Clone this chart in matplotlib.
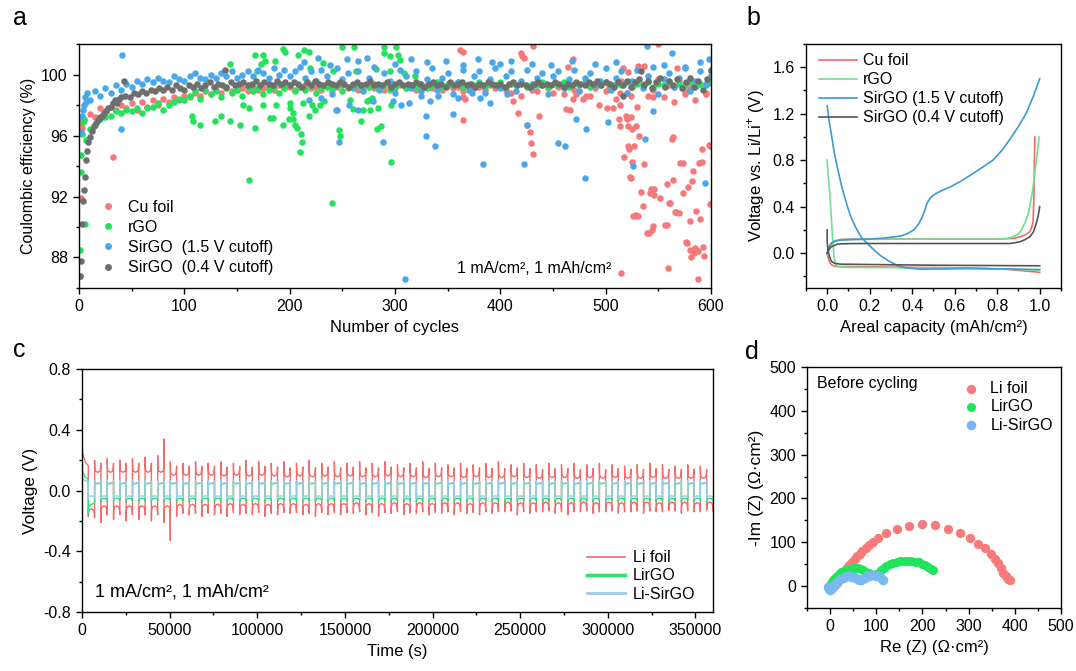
import matplotlib
matplotlib.use("Agg")
import matplotlib.pyplot as plt
from matplotlib.ticker import MultipleLocator
from matplotlib.lines import Line2D

plt.rcParams['font.family'] = ['Liberation Sans', 'DejaVu Sans']
plt.rcParams['mathtext.fontset'] = 'custom'
plt.rcParams['mathtext.rm'] = 'Liberation Sans'
plt.rcParams['axes.linewidth'] = 1.0
plt.rcParams['axes.unicode_minus'] = False

# ---------------- panel a: coulombic efficiency ----------------
cu_band_x = list(range(5, 601, 5))
cu_band_y = [97.0, 97.4, 97.2, 97.8, 97.6, 97.9, 97.7, 98.0, 97.8, 98.1,
             97.7, 98.2, 97.9, 98.3, 98.0, 98.4, 98.2, 98.5, 98.3, 98.6,
             98.5, 98.8, 98.6, 98.9, 98.7, 99.0, 98.8, 99.1, 98.9, 99.0,
             99.1, 98.9, 99.2, 99.0, 99.1, 99.2, 99.0, 99.3, 99.1, 99.2,
             99.0, 99.2, 99.3, 99.1, 99.2, 99.0, 99.3, 99.1, 99.2, 99.3,
             99.1, 99.2, 99.0, 99.3, 99.2, 99.1, 99.3, 99.0, 99.2, 99.1,
             99.3, 99.1, 99.2, 99.0, 99.2, 99.3, 99.1, 99.2, 99.0, 99.3,
             99.1, 99.2, 98.9, 99.3, 99.1, 99.2, 99.0, 99.3, 99.1, 99.2,
             99.0, 98.8, 99.3, 98.6, 99.2, 99.0, 98.9, 99.3, 99.1, 98.8,
             99.2, 98.7, 99.3, 99.0, 98.9, 99.4, 98.6, 99.1, 99.5, 98.9,
             99.3, 98.4, 99.6, 98.8, 99.2, 97.9, 99.4, 98.6, 99.0, 99.7,
             98.5, 99.3, 98.2, 99.6, 98.9, 99.1, 98.3, 99.4, 98.7, 100.2]
cu_out = [(1, 97.0), (2, 96.8), (3, 96.5), (2, 91.9), (4, 96.9), (32, 94.6),
          (362, 101.6), (365, 101.5), (366, 98.4), (365, 98.5), (365, 97.0),
          (412, 98.25), (417, 97.5), (420, 101.4), (421, 101.2), (422, 101.1), (425, 96.7),
          (428, 96.2), (429, 95.5), (431, 101.9), (431, 94.8), (437, 97.3),
          (462, 97.75), (464, 100.5), (466, 97.7), (469, 98.4), (469, 101.0), (472, 98.7),
          (478, 98.4), (481, 98.6), (494, 98.0), (501, 97.8), (503, 99.2), (507, 97.8),
          (513, 97.1), (514, 98.8), (514, 98.0), (514, 96.6), (516, 100.4), (517, 94.6),
          (519, 97.3), (520, 97.1), (521, 95.3), (521, 100.15), (521, 96.6), (522, 95.1),
          (523, 93.3), (524, 98.6), (524, 93.2), (524, 97.2), (525, 96.4), (525, 94.25),
          (526, 90.7), (527, 95.3), (528, 90.7), (529, 90.8), (529, 96.6), (531, 100.55),
          (531, 90.7), (532, 95.95), (534, 92.3), (535, 91.4), (536, 94.1), (536, 100.55),
          (539, 89.6), (541, 89.6), (542, 92.2), (543, 92.5), (544, 89.8), (545, 90.05),
          (545, 98.5), (546, 92.5), (546, 92.1), (550, 102.0), (552, 91.9), (556, 90.1),
          (558, 92.85), (558, 90.1), (559, 87.3), (560, 91.6), (561, 91.6), (563, 95.8),
          (564, 95.9), (564, 93.1), (566, 91.0), (567, 91.0), (568, 100.4), (570, 90.9),
          (571, 94.2), (573, 92.2), (573, 94.2), (575, 98.75), (576, 89.0), (577, 88.96),
          (578, 92.6), (580, 90.4), (580, 88.5), (581, 88.0), (582, 93.0), (583, 93.66),
          (584, 88.3), (585, 88.6), (586, 91.04), (588, 88.4), (588, 86.6), (589, 94.2),
          (590, 90.5), (591, 95.1), (591, 94.25), (592, 88.7), (593, 88.1), (595, 98.8),
          (597, 99.45), (598, 95.35), (599, 91.5), (599, 95.3), (515, 87.0)]

rgo_band_x = list(range(10, 601, 5))
rgo_band_y = [96.4, 96.7, 97.1, 97.2, 97.3, 97.6, 97.5, 97.7, 97.6, 97.8,
              97.5, 97.8, 97.9, 98.1, 97.7, 98.0, 98.2, 98.4, 98.3, 98.6,
              98.9, 98.4, 99.0, 98.7, 98.9, 98.5, 99.1, 98.8, 99.0, 98.6,
              99.2, 98.9, 99.1, 98.7, 99.0, 99.2, 98.8, 99.1, 99.3, 98.9,
              99.2, 99.0, 99.3, 98.8, 99.1, 99.2, 99.0, 99.3, 98.9, 99.2,
              99.1, 99.3, 99.0, 99.2, 99.4, 99.1, 99.3, 99.0, 99.2, 99.4,
              99.1, 99.3, 99.2, 99.4, 99.1, 99.3, 99.5, 99.2, 99.4, 99.3,
              99.5, 99.2, 99.4, 99.3, 99.5, 99.2, 99.4, 99.3, 99.5, 99.2,
              99.4, 99.3, 99.5, 99.2, 99.4, 99.3, 99.5, 99.2, 99.4, 99.3,
              99.5, 99.2, 99.4, 99.3, 99.5, 99.2, 99.4, 99.3, 99.5, 99.2,
              99.4, 99.3, 99.5, 99.2, 99.4, 99.3, 99.5, 99.2, 99.4, 99.3,
              99.5, 99.2, 99.4, 99.3, 99.5, 99.2, 99.4, 99.3, 99.5]
rgo_out = [(1, 88.5), (2, 93.6), (2, 94.7), (3, 96.1), (6, 90.2), (4, 96.9), (5, 97.1),
           (7, 95.7), (107, 97.27), (108, 96.94), (115, 96.72), (129, 96.94), (135, 97.27),
           (143, 96.94), (143, 100.66), (153, 96.66), (156, 98.03), (161, 97.8), (161, 93.07),
           (167, 96.5), (167, 101.25), (169, 100.2), (173, 100.66), (175, 98.03), (175, 101.3),
           (177, 100.9), (181, 97.16), (184, 97.16), (186, 100.9), (187, 98.03), (194, 96.66),
           (196, 101.5), (194, 101.7), (199, 97.05), (200, 98.14), (200, 97.8), (203, 97.5),
           (203, 97.05), (205, 96.7), (207, 96.5), (208, 101.3), (210, 94.9), (211, 96.07),
           (212, 95.6), (213, 98.1), (214, 101.6), (218, 97.27), (218, 101.5), (219, 100.44),
           (221, 98.03), (224, 97.7), (229, 98.03), (232, 100.77), (233, 98.25), (240, 91.6),
           (241, 100.22), (247, 96.35), (248, 95.96), (250, 101.8), (257, 98.36), (260, 97.75),
           (261, 101.8), (263, 100.22), (268, 96.94), (270, 97.7), (273, 98.25), (275, 98.36),
           (276, 97.7), (278, 98.47), (282, 100.33), (283, 96.4), (284, 97.8), (287, 96.6),
           (290, 101.8), (290, 101.4), (295, 101.2), (295, 100.22), (296, 98.03), (296, 94.27),
           (301, 101.8), (303, 101.25), (305, 100.98), (309, 100.1), (319, 99.9)]

sir15_band_x = list(range(10, 601, 5))
sir15_band_y = [98.3, 98.9, 98.6, 99.1, 98.8, 99.3, 99.0, 99.4, 99.2, 99.6,
                99.4, 99.7, 99.5, 99.8, 99.6, 99.5, 99.9, 99.7, 99.6, 99.9,
                100.1, 99.8, 99.7, 100.0, 99.8, 100.1, 99.9, 100.2, 99.8, 100.0,
                100.2, 99.9, 100.3, 100.1, 99.8, 100.4, 100.0, 100.3, 99.9, 100.2,
                100.5, 99.8, 100.2, 99.6, 100.3, 99.9, 98.7, 100.4, 99.7, 100.1,
                99.2, 100.2, 98.9, 99.8, 100.5, 99.0, 100.1, 99.6, 98.8, 100.3,
                99.9, 99.1, 100.2, 98.9, 99.7, 100.4, 99.0, 99.8, 100.1, 98.7,
                99.5, 100.3, 99.0, 99.9, 100.2, 98.8, 99.7, 100.4, 99.1, 99.9,
                100.2, 98.9, 99.6, 100.3, 99.2, 99.8, 100.1, 98.7, 99.9, 100.2,
                99.1, 99.7, 100.3, 98.9, 99.8, 100.1, 99.3, 99.6, 100.4, 99.0,
                99.8, 100.2, 98.8, 99.6, 100.3, 99.1, 99.9, 100.5, 98.7, 99.7,
                100.1, 99.2, 99.8, 100.4, 98.9, 99.6, 100.2, 99.4, 100.0]
sir15_out = [(1, 86.8), (2, 96.2), (3, 97.3), (4, 97.7), (5, 98.0), (6, 98.5), (7, 98.2),
             (8, 98.8), (40, 96.4), (41, 101.3), (227, 101.1), (244, 97.7), (247, 95.6),
             (254, 101.0), (273, 101.1), (289, 95.6), (329, 96.0), (329, 97.3), (330, 100.8),
             (338, 95.3), (355, 97.4), (379, 101.0), (384, 94.1), (400, 100.7), (422, 94.1),
             (425, 96.7), (455, 95.5), (461, 95.3), (472, 97.1), (480, 93.2), (481, 96.4),
             (502, 96.9), (526, 94.0), (537, 95.8), (539, 101.9), (545, 97.6), (563, 101.4),
             (594, 92.9), (309.5, 86.6), (214, 100.8), (238, 100.6), (265, 100.9), (300, 100.7),
             (315, 101.0), (348, 100.9), (365, 100.6), (392, 100.8), (410, 100.9), (430, 100.7),
             (448, 100.6), (468, 100.9), (490, 100.7), (510, 100.8), (555, 100.6), (575, 100.5),
             (590, 100.8), (598, 101.0), (218, 98.36), (230, 98.47), (245, 97.7), (256, 98.03),
             (265, 97.7), (279, 98.25), (298, 98.25), (306, 98.03), (313, 98.14), (325, 98.58),
             (333, 98.25), (341, 98.58), (360, 98.47), (373, 98.8), (381, 98.47), (390, 98.14),
             (406, 98.69)]

sir04_early = [(1, 86.8), (2, 87.8), (3, 90.2), (4, 91.7), (5, 92.4), (6, 93.3), (7, 94.4),
               (8, 95.0), (9, 95.6), (10, 95.9), (12, 96.3), (14, 96.6), (16, 96.8), (18, 97.0),
               (20, 97.2), (22, 97.3), (24, 97.5), (26, 97.6), (28, 97.8), (30, 97.9),
               (32, 98.1), (34, 98.3), (36, 98.1), (38, 98.4), (40, 98.5), (43, 99.6),
               (139, 100.3), (516, 98.6), (534, 100.2)]
sir04_band_x = list(range(44, 601, 4))
sir04_band_y = [98.6, 98.5, 98.8, 98.7, 98.9, 98.8, 99.0, 98.9, 99.1, 99.0,
                99.2, 99.0, 99.3, 99.1, 99.0, 99.3, 99.2, 99.4, 99.1, 99.3,
                99.5, 99.2, 99.4, 99.3, 99.2, 99.5, 99.3, 99.4, 99.5, 99.3,
                99.4, 99.6, 99.3, 99.5, 99.4, 99.3, 99.6, 99.4, 99.5, 99.3,
                99.5, 99.4, 99.2, 99.5, 99.3, 99.6, 99.4, 99.3, 99.5, 99.4,
                99.3, 99.5, 99.4, 99.2, 99.4, 99.5, 99.3, 99.4, 99.6, 99.3,
                99.4, 99.3, 99.5, 99.2, 99.4, 99.5, 99.3, 99.4, 99.3, 99.5,
                99.4, 99.2, 99.4, 99.5, 99.3, 99.4, 99.2, 99.5, 99.3, 99.4,
                99.5, 99.3, 99.4, 99.2, 99.4, 99.3, 99.5, 99.4, 99.3, 99.4,
                99.2, 99.4, 99.5, 99.3, 99.4, 99.3, 99.2, 99.4, 99.5, 99.3,
                99.4, 99.3, 99.5, 99.4, 99.2, 99.4, 99.3, 99.5, 99.4, 99.3,
                99.5, 99.4, 99.6, 99.3, 99.5, 99.4, 99.2, 99.5, 99.3, 99.6,
                99.2, 99.5, 99.7, 99.3, 99.6, 99.1, 99.5, 99.8, 99.2, 99.6,
                99.3, 99.7, 99.1, 99.5, 99.8, 99.2, 99.6, 99.0, 99.7, 100.3]

# ---------------- panel b: voltage profiles ----------------
cu_dis_cap = [0.0, 0.005, 0.011, 0.02, 0.034, 0.06, 0.19, 0.4, 0.657, 0.85, 1.0]
cu_dis_v = [0.0, -0.04, -0.075, -0.1, -0.112, -0.116, -0.118, -0.122, -0.127, -0.14, -0.165]
cu_chg_cap = [0.0, 0.008, 0.019, 0.04, 0.065, 0.2, 0.5, 0.813, 0.88, 0.907, 0.935, 0.953,
              0.962, 0.969, 0.973, 0.977]
cu_chg_v = [0.0, 0.05, 0.083, 0.105, 0.118, 0.12, 0.121, 0.121, 0.128, 0.14, 0.16, 0.184,
            0.22, 0.27, 0.5, 1.0]
rgo_dis_cap = [0.0, 0.004, 0.011, 0.018, 0.026, 0.03, 0.034, 0.042, 0.05, 0.1, 0.5, 0.8, 1.0]
rgo_dis_v = [0.80, 0.68, 0.54, 0.35, 0.112, 0.02, -0.06, -0.1, -0.118, -0.122, -0.127,
             -0.135, -0.147]
rgo_chg_cap = [0.0, 0.01, 0.026, 0.05, 0.081, 0.3, 0.6, 0.813, 0.85, 0.875, 0.9, 0.914,
               0.93, 0.945, 0.953, 0.965, 0.977, 0.99, 0.997]
rgo_chg_v = [-0.02, 0.05, 0.098, 0.112, 0.118, 0.12, 0.121, 0.121, 0.128, 0.14, 0.165, 0.2,
             0.26, 0.33, 0.4, 0.52, 0.69, 0.88, 1.0]
s15_dis_cap = [0.0, 0.008, 0.019, 0.033, 0.05, 0.065, 0.081, 0.097, 0.112, 0.135, 0.159,
               0.19, 0.221, 0.25, 0.283, 0.315, 0.346, 0.39, 0.44, 0.55, 0.657, 0.8, 1.0]
s15_dis_v = [1.27, 1.15, 1.03, 0.87, 0.72, 0.6, 0.49, 0.39, 0.31, 0.22, 0.14, 0.08, 0.026,
             -0.02, -0.06, -0.092, -0.118, -0.13, -0.138, -0.136, -0.132, -0.135, -0.141]
s15_chg_cap = [0.0, 0.01, 0.025, 0.045, 0.065, 0.12, 0.19, 0.27, 0.346, 0.38, 0.408, 0.43,
               0.447, 0.46, 0.47, 0.485, 0.5, 0.54, 0.58, 0.64, 0.69, 0.74, 0.78, 0.82,
               0.86, 0.9, 0.938, 0.97, 1.0]
s15_chg_v = [0.0, 0.06, 0.095, 0.108, 0.112, 0.118, 0.12, 0.13, 0.147, 0.17, 0.2, 0.25,
             0.31, 0.37, 0.43, 0.475, 0.5, 0.54, 0.57, 0.63, 0.69, 0.75, 0.8, 0.88, 0.98,
             1.09, 1.21, 1.35, 1.5]
s04_dis_cap = [0.0, 0.0, 0.004, 0.011, 0.02, 0.035, 0.065, 0.3, 0.5, 0.8, 1.0]
s04_dis_v = [0.2, 0.1, 0.02, -0.03, -0.07, -0.088, -0.095, -0.1, -0.104, -0.107, -0.109]
s04_chg_cap = [0.0, 0.008, 0.019, 0.05, 0.1, 0.19, 0.5, 0.86, 0.885, 0.907, 0.93, 0.953,
               0.97, 0.984, 0.993, 1.0]
s04_chg_v = [0.0, 0.03, 0.055, 0.078, 0.082, 0.083, 0.083, 0.083, 0.09, 0.098, 0.115, 0.14,
             0.18, 0.256, 0.32, 0.4]

# ---------------- panel c: symmetric cell cycling ----------------
half_time = 3600
frac = [0.0, 0.03, 0.12, 0.5, 0.88, 0.97, 1.0]
li_up = [0.37, 0.20, 0.21, 0.20, 0.21, 0.22, 0.23, 0.19, 0.18, 0.19,
         0.18, 0.19, 0.18, 0.20, 0.19, 0.18, 0.19, 0.18, 0.20, 0.18,
         0.19, 0.18, 0.19, 0.18, 0.19, 0.17, 0.18, 0.19, 0.18, 0.17,
         0.18, 0.17, 0.18, 0.19, 0.17, 0.18, 0.17, 0.18, 0.17, 0.18,
         0.17, 0.18, 0.17, 0.16, 0.17, 0.18, 0.17, 0.16, 0.17, 0.16]
li_dn = [-0.17, -0.21, -0.19, -0.20, -0.19, -0.20, -0.21, -0.17, -0.16, -0.17,
         -0.16, -0.17, -0.16, -0.16, -0.17, -0.16, -0.15, -0.16, -0.17, -0.16,
         -0.16, -0.15, -0.16, -0.17, -0.15, -0.16, -0.15, -0.16, -0.15, -0.16,
         -0.15, -0.16, -0.15, -0.14, -0.16, -0.15, -0.14, -0.15, -0.16, -0.14,
         -0.15, -0.14, -0.15, -0.14, -0.15, -0.14, -0.13, -0.15, -0.14, -0.13]
li_plat = [0.16, 0.12, 0.12, 0.12, 0.12, 0.12, 0.12, 0.10, 0.10, 0.10,
           0.10, 0.095, 0.10, 0.095, 0.10, 0.095, 0.09, 0.095, 0.09, 0.095,
           0.09, 0.095, 0.09, 0.09, 0.095, 0.09, 0.09, 0.085, 0.09, 0.09,
           0.085, 0.09, 0.085, 0.085, 0.09, 0.085, 0.08, 0.085, 0.085, 0.08,
           0.085, 0.08, 0.085, 0.08, 0.08, 0.085, 0.08, 0.08, 0.08, 0.08]
li_nplat = [-0.12, -0.10, -0.10, -0.10, -0.10, -0.10, -0.10, -0.09, -0.09, -0.09,
            -0.09, -0.085, -0.09, -0.085, -0.09, -0.085, -0.085, -0.09, -0.085, -0.085,
            -0.085, -0.08, -0.085, -0.085, -0.08, -0.085, -0.08, -0.085, -0.08, -0.08,
            -0.085, -0.08, -0.08, -0.075, -0.08, -0.08, -0.075, -0.08, -0.08, -0.075,
            -0.08, -0.075, -0.08, -0.075, -0.075, -0.08, -0.075, -0.075, -0.08, -0.075]
pos_shape = [0.03, 0.01, 0.0, 0.01, 0.04, 0.06]
neg_shape = [-0.03, -0.01, 0.0, -0.01, -0.04, -0.06]
li_first = [0.37, 0.30, 0.24, 0.19, 0.17, 0.165, 0.16]
spike_cycle = [6]
spike_up = [0.34]
spike_dn = [-0.33]
lirgo_pos = [0.06, 0.05, 0.043, 0.046, 0.05, 0.055, 0.058]
lirgo_neg = [-0.075, -0.062, -0.055, -0.05, -0.055, -0.06, -0.065]
lirgo_first = [0.22, 0.17, 0.12, 0.09, 0.08, 0.075, 0.07]
lirgo_first_neg = [-0.15, -0.12, -0.10, -0.09, -0.085, -0.08, -0.08]
sirgo_pos = [0.065, 0.055, 0.045, 0.05, 0.052, 0.056, 0.06]
sirgo_neg = [-0.055, -0.045, -0.038, -0.035, -0.038, -0.042, -0.046]
sirgo_first = [0.12, 0.09, 0.075, 0.065, 0.06, 0.06, 0.06]

# ---------------- panel d: impedance ----------------
eis_li_re = [10, 14, 18, 22, 27, 32, 37, 42, 47, 53, 58, 64, 70, 77, 85, 94, 104, 121, 144,
             170, 200, 228, 256, 281, 303, 321, 336, 348, 357, 364, 370, 375, 380, 385, 389]
eis_li_im = [2, 8, 15, 22, 29, 36, 42, 49, 55, 62, 68, 74, 80, 87, 94, 101, 109, 122, 131,
             137, 141, 139, 131, 121, 109, 97, 86, 74, 63, 52, 41, 31, 22, 16, 14]
eis_rgo_re = [0, 3, 6, 10, 14, 19, 24, 30, 36, 42, 48, 54, 60, 66, 72, 78, 84, 90, 95, 100,
              105, 110, 116, 122, 129, 136, 144, 152, 160, 168, 176, 184, 192, 199, 206,
              212, 218, 222]
eis_rgo_im = [3, 8, 13, 18, 23, 28, 32, 35, 38, 40, 41, 41.5, 41, 40, 37, 33, 29, 26, 25, 27,
              31, 36, 41, 46, 50, 53, 55.5, 57, 58, 58, 57.5, 56, 54, 51, 48, 44, 40, 37]
eis_sir_re = [-5, -3, 0, 3, 6, 9, 13, 17, 22, 27, 32, 37, 42, 47, 52, 57, 62, 66, 70, 75, 80,
              85, 90, 95, 100, 105, 110, 114]
eis_sir_im = [-2, -6, -8, -6, -2, 3, 8, 12, 16, 19, 21, 22, 22, 21, 20, 18, 15, 14, 16, 19,
              22, 24, 25, 25, 24, 22, 18, 14]

# colours
c_red = '#f5787a'
c_green = '#22e35c'
c_blue = '#4aa8ea'
c_gray = '#6e6e6e'

fig = plt.figure(figsize=(10.76, 6.71), dpi=100)
ax_a = fig.add_axes([0.0734, 0.5708, 0.5874, 0.3636])
ax_b = fig.add_axes([0.749, 0.5708, 0.237, 0.3636])
ax_c = fig.add_axes([0.0762, 0.0879, 0.5864, 0.362])
ax_d = fig.add_axes([0.750, 0.0939, 0.236, 0.359])

FS = 11.5
for ax in (ax_a, ax_b, ax_c, ax_d):
    ax.tick_params(which='both', direction='out', top=False, right=False, labelsize=FS)
    ax.tick_params(which='major', length=4.5, width=1)
    ax.tick_params(which='minor', length=2.5, width=1)

# panel a
ms = 22
ax_a.scatter(cu_band_x, cu_band_y, s=ms, color=c_red, lw=0)
ax_a.scatter(*zip(*cu_out), s=ms, color=c_red, lw=0)
ax_a.scatter(rgo_band_x, rgo_band_y, s=ms, color=c_green, lw=0)
ax_a.scatter(*zip(*rgo_out), s=ms, color=c_green, lw=0)
ax_a.scatter(sir15_band_x, sir15_band_y, s=ms, color=c_blue, lw=0)
ax_a.scatter(*zip(*sir15_out), s=ms, color=c_blue, lw=0)
ax_a.scatter(*zip(*sir04_early), s=ms, color=c_gray, lw=0)
ax_a.scatter(sir04_band_x, sir04_band_y, s=ms, color=c_gray, lw=0)
ax_a.set_xlim(0, 600)
ax_a.set_ylim(86, 102)
ax_a.xaxis.set_major_locator(MultipleLocator(100))
ax_a.xaxis.set_minor_locator(MultipleLocator(50))
ax_a.yaxis.set_major_locator(MultipleLocator(4))
ax_a.yaxis.set_minor_locator(MultipleLocator(2))
ax_a.set_xlabel('Number of cycles', fontsize=12)
ax_a.set_ylabel('Coulombic efficiency (%)', fontsize=11.5)
leg_a = [Line2D([], [], ls='none', marker='o', ms=5, mec='none', mfc=c, label=l)
         for c, l in [(c_red, 'Cu foil'), (c_green, 'rGO'),
                      (c_blue, 'SirGO  (1.5 V cutoff)'), (c_gray, 'SirGO  (0.4 V cutoff)')]]
ax_a.legend(handles=leg_a, loc='lower left', bbox_to_anchor=(0.02, 0.02), frameon=False,
            fontsize=FS, handlelength=1.0, handletextpad=0.8, labelspacing=0.32, borderpad=0)
ax_a.text(0.598, 0.06, '1 mA/cm², 1 mAh/cm²', transform=ax_a.transAxes, fontsize=FS)

# panel b
lw_b = 1.2
ax_b.plot(cu_dis_cap, cu_dis_v, color='#f06a6a', lw=lw_b, label='Cu foil')
ax_b.plot(cu_chg_cap, cu_chg_v, color='#f06a6a', lw=lw_b)
ax_b.plot(rgo_dis_cap, rgo_dis_v, color='#6fe08f', lw=lw_b, label='rGO')
ax_b.plot(rgo_chg_cap, rgo_chg_v, color='#6fe08f', lw=lw_b)
ax_b.plot(s15_dis_cap, s15_dis_v, color='#3a9bd5', lw=lw_b, label='SirGO (1.5 V cutoff)')
ax_b.plot(s15_chg_cap, s15_chg_v, color='#3a9bd5', lw=lw_b)
ax_b.plot(s04_dis_cap, s04_dis_v, color='#555555', lw=lw_b, label='SirGO (0.4 V cutoff)')
ax_b.plot(s04_chg_cap, s04_chg_v, color='#555555', lw=lw_b)
ax_b.set_xlim(-0.1, 1.1)
ax_b.set_ylim(-0.3, 1.8)
ax_b.xaxis.set_major_locator(MultipleLocator(0.2))
ax_b.xaxis.set_minor_locator(MultipleLocator(0.1))
ax_b.yaxis.set_major_locator(MultipleLocator(0.4))
ax_b.yaxis.set_minor_locator(MultipleLocator(0.2))
ax_b.set_xlabel('Areal capacity (mAh/cm²)', fontsize=12)
ax_b.set_ylabel(r'Voltage vs. Li/Li$^{+}$ (V)', fontsize=12)
ax_b.legend(loc='upper left', bbox_to_anchor=(0.02, 0.995), frameon=False, fontsize=FS,
            handlelength=2.4, handletextpad=0.35, labelspacing=0.25, borderpad=0)

# panel c
li_t, li_v, rg_t, rg_v, si_t, si_v = [], [], [], [], [], []
for k in range(len(li_up)):
    t0 = k * 2 * half_time
    tp = [t0 + f * half_time for f in frac]
    tn = [t0 + half_time + f * half_time for f in frac]
    if k == 0:
        pos = list(li_first)
        rpos, rneg, spos = lirgo_first, lirgo_first_neg, sirgo_first
    else:
        pos = [li_up[k]] + [li_plat[k] + d for d in pos_shape]
        rpos, rneg, spos = lirgo_pos, lirgo_neg, sirgo_pos
    neg = [li_dn[k]] + [li_nplat[k] + d for d in neg_shape]
    if k in spike_cycle:
        i = spike_cycle.index(k)
        pos[-1] = spike_up[i]
        neg[-1] = spike_dn[i]
    li_t += tp + tn
    li_v += pos + neg
    rg_t += tp + tn
    rg_v += list(rpos) + list(rneg)
    si_t += tp + tn
    si_v += list(spos) + list(sirgo_neg)

ax_c.plot(li_t, li_v, color='#f36b6b', lw=1.0)
ax_c.plot(rg_t, rg_v, color='#2fe070', lw=1.0)
ax_c.plot(si_t, si_v, color='#9ccbe8', lw=1.0)
ax_c.set_xlim(0, 360000)
ax_c.set_ylim(-0.8, 0.8)
ax_c.xaxis.set_major_locator(MultipleLocator(50000))
ax_c.xaxis.set_minor_locator(MultipleLocator(25000))
ax_c.yaxis.set_major_locator(MultipleLocator(0.4))
ax_c.yaxis.set_minor_locator(MultipleLocator(0.2))
ax_c.set_xlabel('Time (s)', fontsize=12)
ax_c.set_ylabel('Voltage (V)', fontsize=12.5)
leg_c = [Line2D([], [], color='#f36b6b', lw=1.2, label='Li foil'),
         Line2D([], [], color='#2fe070', lw=2.5, label='LirGO'),
         Line2D([], [], color='#9ccbe8', lw=2.0, label='Li-SirGO')]
ax_c.legend(handles=leg_c, loc='lower right', bbox_to_anchor=(0.985, 0.01), frameon=False,
            fontsize=FS, handlelength=2.4, handletextpad=0.5, labelspacing=0.2, borderpad=0)
ax_c.text(0.02, 0.065, '1 mA/cm², 1 mAh/cm²', transform=ax_c.transAxes, fontsize=13)

# panel d
ax_d.scatter(eis_li_re, eis_li_im, s=45, color='#f87a7a', lw=0, label='Li foil')
ax_d.scatter(eis_rgo_re, eis_rgo_im, s=42, color=c_green, lw=0, label='LirGO')
ax_d.scatter(eis_sir_re, eis_sir_im, s=48, color='#7ab8f0', lw=0, label='Li-SirGO')
ax_d.set_xlim(-50, 500)
ax_d.set_ylim(-50, 500)
ax_d.xaxis.set_major_locator(MultipleLocator(100))
ax_d.xaxis.set_minor_locator(MultipleLocator(50))
ax_d.yaxis.set_major_locator(MultipleLocator(100))
ax_d.yaxis.set_minor_locator(MultipleLocator(50))
ax_d.set_xlabel('Re (Z) (Ω·cm²)', fontsize=12)
ax_d.set_ylabel('-Im (Z) (Ω·cm²)', fontsize=12.5)
ax_d.legend(loc='upper right', bbox_to_anchor=(1.0, 0.975), frameon=False, fontsize=FS,
            handletextpad=0.2, labelspacing=0.2, borderpad=0, scatterpoints=1)
ax_d.text(0.04, 0.915, 'Before cycling', transform=ax_d.transAxes, fontsize=FS)

# panel letters
for lab, x, y in [('a', 0.012, 0.973), ('b', 0.694, 0.973), ('c', 0.012, 0.478), ('d', 0.692, 0.475)]:
    fig.text(x, y, lab, fontsize=18, va='center')

fig.savefig('out.png', dpi=100)
